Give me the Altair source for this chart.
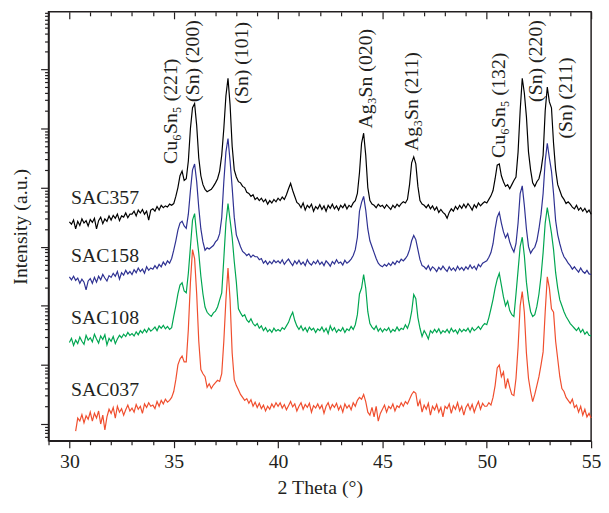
import altair as alt
import pandas as pd

# 2-theta grid of the scan (degrees), 0.1 deg steps from 30.0 to 55.0
TWO_THETA = [round(30.0 + 0.1 * i, 1) for i in range(251)]

# log10 intensity (a.u.), one value per 0.1 deg
SAC357 = [
    3.42, 3.38, 3.45, 3.30, 3.43, 3.36, 3.47, 3.40, 3.44, 3.35,
    3.46, 3.41, 3.48, 3.30, 3.44, 3.50, 3.39, 3.47, 3.43, 3.52,
    3.45, 3.53, 3.48, 3.55, 3.44, 3.52, 3.50, 3.57, 3.49, 3.55,
    3.55, 3.60, 3.52, 3.62, 3.57, 3.63, 3.55, 3.60, 3.45, 3.62,
    3.64, 3.60, 3.68, 3.62, 3.70, 3.66, 3.69, 3.67, 3.72, 3.70,
    3.73, 3.85, 4.00, 4.20, 4.28, 4.12, 4.15, 4.45, 5.00, 5.35,
    5.42, 5.05, 4.50, 4.20, 4.05, 3.97, 3.93, 3.95, 3.97, 4.02,
    4.08, 4.15, 4.28, 4.55, 5.00, 5.55, 5.85, 5.40, 4.70, 4.30,
    4.18, 4.10, 4.08, 4.02, 4.00, 3.92, 3.90, 3.85, 3.88, 3.80,
    3.83, 3.78, 3.82, 3.76, 3.80, 3.72, 3.78, 3.74, 3.80, 3.76,
    3.82, 3.78, 3.84, 3.80, 3.88, 3.98, 4.07, 3.95, 3.85, 3.75,
    3.72, 3.66, 3.74, 3.62, 3.70, 3.66, 3.72, 3.60, 3.68, 3.64,
    3.71, 3.63, 3.69, 3.60, 3.70, 3.65, 3.72, 3.64, 3.69, 3.62,
    3.70, 3.66, 3.72, 3.64, 3.70, 3.67, 3.74, 3.78, 3.90, 4.25,
    4.75, 4.92, 4.55, 4.00, 3.78, 3.72, 3.70, 3.66, 3.72, 3.68,
    3.70, 3.65, 3.71, 3.67, 3.63, 3.70, 3.66, 3.72, 3.68, 3.73,
    3.76, 3.74, 3.80, 4.05, 4.42, 4.52, 4.40, 4.02, 3.78, 3.72,
    3.70, 3.66, 3.71, 3.64, 3.69, 3.62, 3.67, 3.58, 3.63, 3.58,
    3.55, 3.48, 3.58, 3.64, 3.60, 3.68, 3.63, 3.70, 3.65, 3.72,
    3.66, 3.73, 3.68, 3.62, 3.71, 3.66, 3.74, 3.69, 3.73, 3.76,
    3.74, 3.80, 3.86, 3.95, 4.15, 4.38, 4.40, 4.20, 4.10, 4.02,
    4.05, 3.98, 4.05, 4.12, 4.18, 4.60, 5.30, 5.85, 5.60, 5.20,
    4.60, 4.30, 4.08, 4.02, 4.10, 4.15, 4.30, 4.55, 5.30, 5.70,
    5.45, 5.35, 4.75, 4.30, 4.05, 3.95, 3.85, 3.80, 3.73, 3.76,
    3.72, 3.67, 3.64, 3.70, 3.62, 3.66, 3.60, 3.65, 3.58, 3.62,
    3.55,
]

SAC158 = [
    2.49, 2.44, 2.50, 2.43, 2.47, 2.38, 2.45, 2.40, 2.27, 2.42,
    2.46, 2.38, 2.48, 2.40, 2.50, 2.44, 2.53, 2.47, 2.42, 2.51,
    2.48, 2.55, 2.50, 2.58, 2.45, 2.56, 2.52, 2.60, 2.54, 2.58,
    2.53, 2.61, 2.56, 2.64, 2.58, 2.62, 2.55, 2.66, 2.60, 2.64,
    2.62, 2.68, 2.63, 2.70, 2.66, 2.74, 2.69, 2.76, 2.72, 2.80,
    2.94, 3.10, 3.28, 3.40, 3.43, 3.35, 3.31, 3.55, 3.95, 4.30,
    4.40, 4.10, 3.66, 3.30, 3.08, 2.94, 2.98, 2.96, 2.99, 3.02,
    3.08, 3.12, 3.22, 3.49, 4.10, 4.60, 4.83, 4.45, 4.00, 3.50,
    3.20, 3.10, 3.00, 2.92, 2.89, 2.85, 2.88, 2.82, 2.86, 2.83,
    2.83, 2.78, 2.80, 2.72, 2.76, 2.70, 2.75, 2.71, 2.77, 2.73,
    2.76, 2.72, 2.78, 2.70, 2.75, 2.79, 2.73, 2.68, 2.76, 2.71,
    2.77, 2.70, 2.74, 2.68, 2.78, 2.72, 2.69, 2.75, 2.71, 2.77,
    2.70, 2.74, 2.68, 2.76, 2.72, 2.67, 2.75, 2.71, 2.78, 2.72,
    2.74, 2.69, 2.77, 2.72, 2.75, 2.79, 2.85, 2.95, 3.16, 3.60,
    3.75, 3.85, 3.62, 3.30, 3.10, 3.00, 2.90, 2.80, 2.72, 2.68,
    2.66, 2.70, 2.67, 2.72, 2.68, 2.74, 2.70, 2.76, 2.73, 2.79,
    2.76, 2.80, 2.85, 2.95, 3.10, 3.19, 3.12, 2.95, 2.78, 2.68,
    2.66, 2.62, 2.68, 2.60, 2.66, 2.63, 2.58, 2.65, 2.61, 2.67,
    2.62, 2.58, 2.66, 2.60, 2.64, 2.59, 2.67, 2.61, 2.65, 2.60,
    2.66, 2.62, 2.69, 2.63, 2.67, 2.61, 2.70, 2.66, 2.72, 2.74,
    2.76, 2.82, 2.90, 3.05, 3.30, 3.50, 3.58, 3.40, 3.25, 3.15,
    3.22, 3.08, 2.98, 2.91, 3.05, 3.40, 3.90, 4.03, 3.70, 3.30,
    3.00, 2.89, 2.95, 2.99, 3.10, 3.30, 3.55, 3.90, 4.45, 4.75,
    4.50, 4.28, 3.90, 3.44, 3.20, 3.05, 2.92, 2.83, 2.78, 2.72,
    2.68, 2.62, 2.66, 2.61, 2.57, 2.64, 2.58, 2.55, 2.60, 2.54,
    2.53,
]

SAC108 = [
    1.38, 1.45, 1.33, 1.42, 1.36, 1.47, 1.40, 1.35, 1.50, 1.42,
    1.46, 1.39, 1.52, 1.44, 1.37, 1.49, 1.43, 1.51, 1.34, 1.45,
    1.40, 1.48, 1.36, 1.44, 1.50, 1.46, 1.52, 1.48, 1.55, 1.50,
    1.53, 1.49, 1.56, 1.51, 1.58, 1.54, 1.60, 1.55, 1.62, 1.57,
    1.60, 1.64, 1.58, 1.66, 1.62, 1.67, 1.61, 1.65, 1.60, 1.63,
    1.82, 2.00, 2.20, 2.35, 2.39, 2.25, 2.22, 2.55, 3.00, 3.45,
    3.56, 3.20, 2.89, 2.50, 2.20, 1.98, 1.89, 1.85, 1.82, 1.88,
    1.91, 1.98, 2.10, 2.22, 2.80, 3.40, 3.73, 3.45, 3.16, 2.75,
    2.40, 1.95, 1.88, 1.82, 1.85, 1.76, 1.72, 1.78, 1.70, 1.66,
    1.70, 1.62, 1.66, 1.58, 1.63, 1.56, 1.60, 1.55, 1.62, 1.57,
    1.60, 1.57, 1.63, 1.60, 1.66, 1.72, 1.82, 1.89, 1.75, 1.66,
    1.60, 1.66, 1.58, 1.63, 1.56, 1.64, 1.59, 1.62, 1.55, 1.61,
    1.58, 1.64, 1.56, 1.62, 1.53, 1.66, 1.58, 1.63, 1.55, 1.60,
    1.57, 1.63, 1.55, 1.61, 1.58, 1.65, 1.60, 1.68, 1.85, 2.20,
    2.30, 2.53, 2.30, 1.90, 1.70, 1.64, 1.60, 1.66, 1.57, 1.62,
    1.56, 1.61, 1.58, 1.63, 1.55, 1.60, 1.57, 1.64, 1.58, 1.62,
    1.60, 1.68, 1.62, 1.72, 1.90, 2.19, 2.12, 1.80, 1.62, 1.48,
    1.58, 1.52, 1.44, 1.58, 1.54, 1.60, 1.55, 1.61, 1.53, 1.58,
    1.55, 1.60, 1.54, 1.62, 1.56, 1.59, 1.53, 1.61, 1.56, 1.60,
    1.57, 1.62, 1.55, 1.63, 1.58, 1.61, 1.65, 1.60, 1.66, 1.70,
    1.68, 1.80, 1.95, 2.11, 2.30, 2.45, 2.55, 2.35, 2.15, 2.00,
    2.08, 1.92, 1.85, 1.82, 2.20, 2.60, 3.00, 3.16, 2.85, 2.40,
    2.10, 1.90, 1.82, 1.85, 1.99, 2.20, 2.50, 2.90, 3.40, 3.66,
    3.45, 3.23, 2.95, 2.56, 2.30, 2.10, 2.00, 1.90, 1.82, 1.76,
    1.70, 1.66, 1.62, 1.58, 1.63, 1.55, 1.60, 1.52, 1.56, 1.50,
    1.49,
]

SAC037 = [
    None, None, None, -0.12, 0.10, 0.05, 0.16, 0.02, 0.14, 0.08,
    0.20, 0.05, 0.18, 0.10, 0.22, 0.00, 0.15, -0.10, 0.12, 0.25,
    0.18, 0.28, 0.10, 0.30, 0.20, 0.26, 0.15, 0.24, 0.32, 0.22,
    0.27, 0.20, 0.33, 0.25, 0.30, 0.18, 0.34, 0.28, 0.36, 0.30,
    0.32, 0.26, 0.38, 0.30, 0.40, 0.34, 0.42, 0.37, 0.40, 0.45,
    0.55, 0.75, 1.00, 1.10, 1.15, 1.05, 1.05, 1.60, 2.40, 2.95,
    2.80, 2.20, 1.40, 0.92, 0.85, 0.80, 0.62, 0.68, 0.60, 0.66,
    0.70, 0.74, 0.72, 0.85, 1.40, 2.10, 2.64, 2.10, 1.20, 0.75,
    0.65, 0.58, 0.50, 0.45, 0.40, 0.43, 0.35, 0.41, 0.30, 0.37,
    0.28, 0.35, 0.26, 0.32, 0.22, 0.30, 0.25, 0.34, 0.28, 0.36,
    0.30, 0.36, 0.27, 0.33, 0.24, 0.31, 0.38, 0.29, 0.34, 0.22,
    0.30, 0.36, 0.25, 0.33, 0.28, 0.35, 0.20, 0.31, 0.27, 0.34,
    0.26, 0.32, 0.18, 0.30, 0.36, 0.25, 0.33, 0.28, 0.35, 0.24,
    0.31, 0.20, 0.34, 0.27, 0.32, 0.24, 0.36, 0.30, 0.40, 0.45,
    0.42, 0.50, 0.38, 0.20, 0.15, 0.28, 0.12, 0.30, 0.05, 0.18,
    0.25, 0.32, 0.20, 0.30, 0.26, 0.34, 0.22, 0.31, 0.28, 0.36,
    0.30, 0.38, 0.34, 0.42, 0.50, 0.55, 0.52, 0.30, 0.40, 0.20,
    0.32, 0.25, 0.35, 0.15, 0.30, 0.24, 0.33, 0.20, 0.28, 0.12,
    0.30, 0.26, 0.34, 0.18, 0.31, 0.25, 0.36, 0.22, 0.30, 0.15,
    0.28, 0.34, 0.24, 0.33, 0.20, 0.30, 0.38, 0.25, 0.35, 0.30,
    0.30, 0.36, 0.32, 0.45, 0.65, 0.95, 1.00, 0.80, 0.88, 0.60,
    0.77, 0.62, 0.50, 0.48, 0.77, 1.30, 2.00, 2.24, 1.89, 1.20,
    0.77, 0.55, 0.38, 0.50, 0.65, 0.80, 1.00, 1.22, 1.90, 2.49,
    2.30, 1.95, 1.89, 1.40, 1.10, 0.80, 0.60, 0.55, 0.45, 0.40,
    0.35, 0.42, 0.28, 0.32, 0.20, 0.30, 0.15, 0.25, 0.12, 0.18,
    0.10,
]

SAMPLES = ["SAC357", "SAC158", "SAC108", "SAC037"]
COLORS = ["#000000", "#2e3192", "#00a651", "#f04e2e"]
SERIES = [SAC357, SAC158, SAC108, SAC037]

# sample names written next to each pattern: (2theta, log10 intensity)
NAME_X = [30.08, 30.08, 30.08, 30.08]
NAME_LOGY = [3.73, 2.74, 1.69, 0.47]

# reflection labels: text, 2theta, log10 intensity of the text's lower end
PEAK_TEXT = ["Cu\u2086Sn\u2085 (221\u0304)", "(Sn) (200)", "(Sn) (101)",
             "Ag\u2083Sn (020)", "Ag\u2083Sn (211)", "Cu\u2086Sn\u2085 (132)",
             "(Sn) (220)", "(Sn) (211)"]
PEAK_X = [34.88, 35.92, 38.29, 44.20, 46.43, 50.60, 52.35, 53.82]
PEAK_LOGY = [4.40, 5.45, 5.42, 5.00, 4.62, 4.50, 5.45, 4.83]

FONT = "Liberation Serif"
Y_DOMAIN = [0.52, 9.4e6]

rows = []
for name, vals in zip(SAMPLES, SERIES):
    for t, v in zip(TWO_THETA, vals):
        if v is not None:
            rows.append({"two_theta": t, "intensity": 10 ** v, "sample": name})
df = pd.DataFrame(rows)

names_df = pd.DataFrame({"label": SAMPLES, "x": NAME_X,
                         "y": [10 ** v for v in NAME_LOGY]})
peaks_df = pd.DataFrame({"label": PEAK_TEXT, "x": PEAK_X,
                         "y": [10 ** v for v in PEAK_LOGY]})

y_ticks = []
for e in range(-1, 8):
    for k in range(1, 10):
        v = k * 10.0 ** e
        if Y_DOMAIN[0] <= v <= Y_DOMAIN[1]:
            y_ticks.append(v)

xscale = alt.Scale(domain=[29, 55], nice=False, zero=False)
yscale = alt.Scale(type="log", domain=Y_DOMAIN, nice=False)

decade_test = "abs(log(datum.value)/LN10 - round(log(datum.value)/LN10)) < 0.000001"

x_axis = alt.Axis(
    values=list(range(29, 56)),
    tickSize={"condition": {"test": "datum.value % 5 === 0", "value": 7}, "value": 4},
    labelExpr="datum.value % 5 === 0 ? datum.label : ''",
    title="2 Theta (\u00b0)", grid=False, labelFont=FONT, labelFontSize=20,
    titleFont=FONT, titleFontSize=20, titleFontWeight="normal",
    labelColor="#231f20", titleColor="#231f20", tickColor="#231f20",
    domainColor="#231f20", domainWidth=1.5, tickWidth=1.2,
    labelPadding=4, titlePadding=6, labelFlush=False, labelOverlap=False,
)
y_axis = alt.Axis(
    values=y_ticks,
    tickSize={"condition": {"test": decade_test, "value": 8}, "value": 4},
    labels=False, title="Intensity (a.u.)", grid=False,
    titleFont=FONT, titleFontSize=20, titleFontWeight="normal",
    titleColor="#231f20", tickColor="#231f20", domainColor="#231f20",
    domainWidth=1.5, tickWidth=1.2, titlePadding=10,
)

lines = alt.Chart(df).mark_line(strokeWidth=1.2).encode(
    x=alt.X("two_theta:Q", scale=xscale, axis=x_axis),
    y=alt.Y("intensity:Q", scale=yscale, axis=y_axis),
    color=alt.Color("sample:N", scale=alt.Scale(domain=SAMPLES, range=COLORS),
                    legend=None, sort=SAMPLES),
    order=alt.Order("two_theta:Q"),
)

top_major = alt.Chart(df).mark_point(opacity=0, size=1).encode(
    x=alt.X("two_theta:Q", scale=xscale,
            axis=alt.Axis(orient="top", values=[30, 35, 40, 45, 50, 55],
                          tickSize=7, offset=-7, labels=False, domain=False,
                          title=None, grid=False, tickColor="#231f20",
                          tickWidth=1.2)),
    y=alt.Y("intensity:Q", scale=yscale, axis=None),
)
top_minor = alt.Chart(df).mark_point(opacity=0, size=1).encode(
    x=alt.X("two_theta:Q", scale=xscale,
            axis=alt.Axis(orient="top",
                          values=[v for v in range(29, 56) if v % 5 != 0],
                          tickSize=4, offset=-4, labels=False, domain=False,
                          title=None, grid=False, tickColor="#231f20",
                          tickWidth=1.2)),
    y=alt.Y("intensity:Q", scale=yscale, axis=None),
)

names = alt.Chart(names_df).mark_text(
    font=FONT, fontSize=20, align="left", baseline="alphabetic", color="#231f20"
).encode(
    x=alt.X("x:Q", scale=xscale, axis=None),
    y=alt.Y("y:Q", scale=yscale, axis=None),
    text="label:N",
)

peaks = alt.Chart(peaks_df).mark_text(
    font=FONT, fontSize=20, align="left", baseline="middle", angle=270,
    color="#231f20"
).encode(
    x=alt.X("x:Q", scale=xscale, axis=None),
    y=alt.Y("y:Q", scale=yscale, axis=None),
    text="label:N",
)

chart = alt.layer(lines, top_major, top_minor, names, peaks).resolve_axis(
    x="independent", y="independent"
).properties(
    width=549, height=434,
    autosize=alt.AutoSizeParams(type="none"),
    padding={"left": 41, "top": 1, "right": 10, "bottom": 57},
).configure_view(stroke="#231f20", strokeWidth=1.5)

chart.save("out.html", embed_options={"renderer": "svg", "actions": False})
